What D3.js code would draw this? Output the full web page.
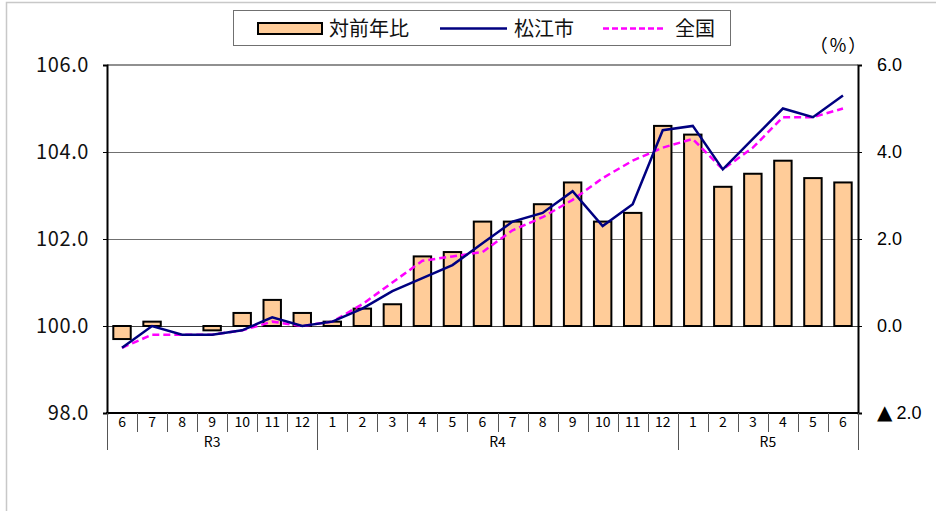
<!DOCTYPE html>
<html>
<head>
<meta charset="utf-8">
<script src="https://cdn.jsdelivr.net/npm/d3@7/dist/d3.min.js"></script>
<style>
  html, body { margin: 0; padding: 0; background: #fff; }
  svg { display: block; }
</style>
</head>
<body>
<svg id="chart" width="936" height="511"></svg>
<script>
// ---- data ----
const months = ["6","7","8","9","10","11","12","1","2","3","4","5","6","7","8","9","10","11","12","1","2","3","4","5","6"];
const years = ["R3","R4","R5"];
const yearCounts = [7, 12, 6];
const yoy = [-0.3, 0.1, 0.0, -0.1, 0.3, 0.6, 0.3, 0.1, 0.4, 0.5, 1.6, 1.7, 2.4, 2.4, 2.8, 3.3, 2.4, 2.6, 4.6, 4.4, 3.2, 3.5, 3.8, 3.4, 3.3];
const matsue = [99.5, 100.0, 99.8, 99.8, 99.9, 100.2, 100.0, 100.1, 100.4, 100.8, 101.1, 101.4, 101.9, 102.4, 102.6, 103.1, 102.3, 102.8, 104.5, 104.6, 103.6, 104.3, 105.0, 104.8, 105.3];
const national = [99.5, 99.8, 99.8, 99.8, 99.9, 100.1, 100.0, 100.1, 100.5, 101.0, 101.5, 101.6, 101.7, 102.2, 102.5, 102.9, 103.4, 103.8, 104.1, 104.3, 103.6, 104.1, 104.8, 104.8, 105.0];
const leftTicks = [98, 100, 102, 104, 106];
const rightTicks = [-2, 0, 2, 4, 6];
const seriesNames = ["対前年比", "松江市", "全国"];

// ---- layout ----
const svg = d3.select("#chart");
const L = 107, R = 858, T = 65, B = 413;
const idx = d3.range(months.length);

const x = d3.scaleBand().domain(idx).range([L, R]).paddingInner(0.42).paddingOuter(0.21);
const yL = d3.scaleLinear().domain([98, 106]).range([B, T]);
const yR = d3.scaleLinear().domain([-2, 6]).range([B, T]);
const cx = i => x(i) + x.bandwidth() / 2;

const jp = "'Noto Sans CJK JP', 'Noto Sans', sans-serif";

// outer frame
svg.append("rect").attr("x", 6.5).attr("y", 2.5).attr("width", 1000).attr("height", 1000)
  .attr("fill", "none").attr("stroke", "#c8c8c8").attr("stroke-width", 1.5);

// gridlines
const grid = svg.append("g");
grid.selectAll("line").data([100, 102, 104]).join("line")
  .attr("x1", L).attr("x2", R)
  .attr("y1", d => Math.round(yL(d)) + 0.5).attr("y2", d => Math.round(yL(d)) + 0.5)
  .attr("stroke", d => d === 100 ? "#404040" : "#707070").attr("stroke-width", 1);
// top border
svg.append("line").attr("x1", L).attr("x2", R).attr("y1", T).attr("y2", T)
  .attr("stroke", "#909090").attr("stroke-width", 2);

// bars
svg.append("g").selectAll("rect").data(idx.filter(i => yoy[i] !== 0)).join("rect")
  .attr("x", i => x(i))
  .attr("width", x.bandwidth())
  .attr("y", i => Math.min(yR(yoy[i]), yR(0)))
  .attr("height", i => Math.abs(yR(yoy[i]) - yR(0)))
  .attr("fill", "#FFCC99").attr("stroke", "#000").attr("stroke-width", 2);

// lines
const lineL = arr => d3.line().x(i => cx(i)).y(i => yL(arr[i]))(idx);
svg.append("path").attr("d", lineL(national)).attr("fill", "none")
  .attr("stroke", "#FF00FF").attr("stroke-width", 2.5).attr("stroke-dasharray", "7,4");
svg.append("path").attr("d", lineL(matsue)).attr("fill", "none")
  .attr("stroke", "#000080").attr("stroke-width", 2.5);

// left axis
const axL = svg.append("g").attr("transform", `translate(${L},0)`)
  .call(d3.axisLeft(yL).tickValues(leftTicks).tickSize(4).tickPadding(14).tickFormat(d3.format(".1f")));
axL.select(".domain").attr("stroke", "#000").attr("stroke-width", 2);
axL.selectAll(".tick line").attr("stroke", "#000");
axL.selectAll(".tick text").attr("font-family", jp).attr("font-size", 20).attr("fill", "#111")
  .attr("letter-spacing", 0.6);

// right axis
const axR = svg.append("g").attr("transform", `translate(${R},0)`)
  .call(d3.axisRight(yR).tickValues(rightTicks).tickSize(4).tickPadding(15)
    .tickFormat(d => d3.format(".1f")(Math.abs(d))));
axR.select(".domain").attr("stroke", "#000").attr("stroke-width", 2);
axR.selectAll(".tick line").attr("stroke", "#000");
axR.selectAll(".tick text").attr("font-family", "'Liberation Sans', Arial, sans-serif").attr("font-size", 18).attr("fill", "#000");
// negative marker
axR.selectAll(".tick text").filter(d => d < 0).each(function() {
  const t = d3.select(this);
  const val = t.text();
  t.text(null);
  t.append("tspan").attr("font-family", "'DejaVu Sans', sans-serif").attr("font-size", 20).text("▲");
  t.append("tspan").attr("dx", 4).text(val);
});

// bottom axis line
svg.append("line").attr("x1", L - 1).attr("x2", R + 1).attr("y1", B).attr("y2", B)
  .attr("stroke", "#000").attr("stroke-width", 2);

// category separators
const step = x.step();
const starts = [0];
yearCounts.forEach((c, k) => starts.push(starts[k] + c));
const sepG = svg.append("g");
d3.range(months.length + 1).forEach(k => {
  const xx = Math.round(L + k * step) + 0.5;
  const isGroup = starts.includes(k);
  sepG.append("line").attr("x1", xx).attr("x2", xx).attr("y1", B)
    .attr("y2", isGroup ? 450 : 432)
    .attr("stroke", "#555").attr("stroke-width", 1);
});
// month labels
svg.append("g").selectAll("text").data(idx).join("text")
  .attr("x", i => L + (i + 0.5) * step).attr("y", 427)
  .attr("text-anchor", "middle").attr("font-family", jp).attr("font-size", 14)
  .attr("fill", "#000").text(i => months[i]);
// year labels
svg.append("g").selectAll("text").data(years).join("text")
  .attr("x", (d, k) => L + (starts[k] + yearCounts[k] / 2) * step).attr("y", 447)
  .attr("text-anchor", "middle").attr("font-family", jp).attr("font-size", 14)
  .attr("fill", "#000").text(d => d);

// unit
svg.append("text").attr("x", 839).attr("y", 52).attr("text-anchor", "middle")
  .attr("font-family", jp).attr("font-size", 18).attr("letter-spacing", 2).attr("fill", "#000").text("（%）");

// legend
const lg = svg.append("g");
lg.append("rect").attr("x", 233.5).attr("y", 10.5).attr("width", 497).attr("height", 35)
  .attr("fill", "#fff").attr("stroke", "#707070").attr("stroke-width", 1);
lg.append("rect").attr("x", 258).attr("y", 23).attr("width", 64).attr("height", 11)
  .attr("fill", "#FFCC99").attr("stroke", "#000").attr("stroke-width", 2);
lg.append("line").attr("x1", 440).attr("x2", 507).attr("y1", 28.5).attr("y2", 28.5)
  .attr("stroke", "#000080").attr("stroke-width", 2.5);
lg.append("line").attr("x1", 603).attr("x2", 663).attr("y1", 28.5).attr("y2", 28.5)
  .attr("stroke", "#FF00FF").attr("stroke-width", 2.5).attr("stroke-dasharray", "6,3");
const lgText = [329, 514, 675];
seriesNames.forEach((n, k) => {
  lg.append("text").attr("x", lgText[k]).attr("y", 36)
    .attr("font-family", jp).attr("font-size", 20).attr("fill", "#111").text(n);
});
</script>
</body>
</html>
